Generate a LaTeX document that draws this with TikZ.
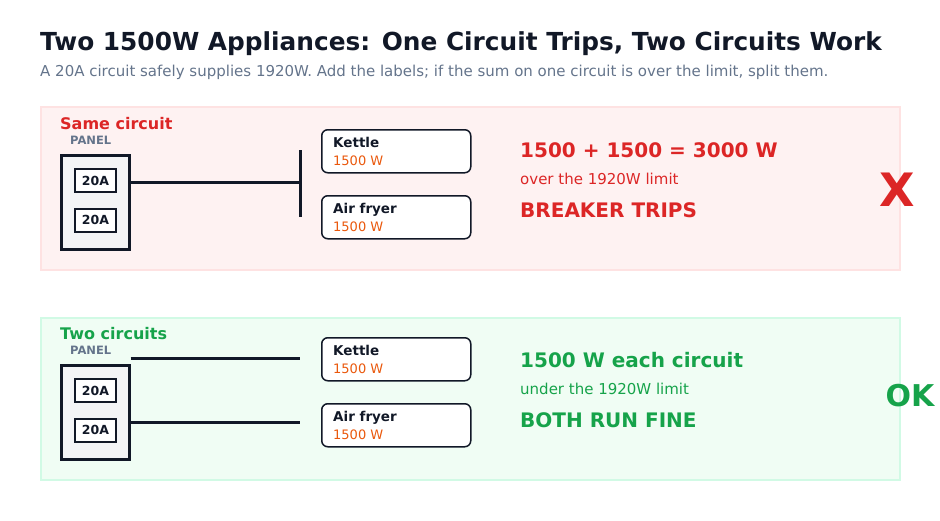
\documentclass[tikz,border=0pt]{standalone}
\usepackage{fontspec}
\setmainfont{DejaVu Sans}
\definecolor{ink}{HTML}{111827}
\definecolor{slate}{HTML}{64748B}
\definecolor{redc}{HTML}{DC2626}
\definecolor{greenc}{HTML}{16A34A}
\definecolor{orangec}{HTML}{EA580C}
\definecolor{bgred}{HTML}{FEF2F2}
\definecolor{bdred}{HTML}{FEE2E2}
\definecolor{bggreen}{HTML}{F0FDF4}
\definecolor{bdgreen}{HTML}{D1FAE5}
\definecolor{panelfill}{HTML}{F3F4F6}
\newcommand{\fs}[1]{\fontsize{#1}{#1}\selectfont}
\begin{document}
\begin{tikzpicture}[x=1pt,y=-1pt,
  txt/.style={inner sep=0pt,anchor=base west},
  panelbox/.style={draw=ink,line width=3pt,fill=panelfill,minimum width=68pt,minimum height=94pt,inner sep=0pt},
  breaker/.style={draw=ink,line width=2pt,fill=white,minimum width=41pt,minimum height=23pt,inner sep=0pt,font=\fs{12.5}\bfseries,text=ink},
  card/.style={draw=ink,line width=1.5pt,fill=white,rounded corners=6pt,minimum width=149pt,minimum height=43pt,inner sep=0pt,anchor=north west},
  wire/.style={draw=ink,line width=3pt},
  appname/.style={txt,font=\fs{13.5}\bfseries,text=ink},
  appw/.style={txt,font=\fs{13},text=orangec}]
\useasboundingbox (0,0) rectangle (940,520);
% title
\node[txt,font=\fs{24.8}\bfseries,text=ink] (title) at (40,50) {Two 1500W Appliances: One Circuit Trips, Two Circuits Work};
\node[txt,font=\fs{15},text=slate] (subtitle) at (40,76) {A 20A circuit safely supplies 1920W. Add the labels; if the sum on one circuit is over the limit, split them.};
% backgrounds
\path[fill=bgred,draw=bdred,line width=2pt] (41,107) rectangle (900,270);
\path[fill=bggreen,draw=bdgreen,line width=2pt] (41,318) rectangle (900,480);
% ---- top: same circuit
\node[txt,font=\fs{16}\bfseries,text=redc] (samelbl) at (60,129) {Same circuit};
\node[txt,font=\fs{11.5}\bfseries,text=slate] (panel1lbl) at (70,144) {PANEL};
\node[panelbox] (panel1) at (95,202) {};
\node[breaker] (b1a) at (95.5,180.5) {20A};
\node[breaker] (b1b) at (95.5,220) {20A};
\coordinate (bus1) at (300,182.5);
\coordinate (bus1top) at (300,150);
\coordinate (bus1bot) at (300,216.5);
\draw[wire] (panel1.east |- bus1) -- (bus1);
\draw[wire] (bus1top) -- (bus1bot);
\node[card] (kettle1) at (321,129) {};
\node[appname] (kettle1n) at (333,147) {Kettle};
\node[appw] (kettle1w) at (333,165) {1500 W};
\node[card] (fryer1) at (321,195) {};
\node[appname] (fryer1n) at (333,213) {Air fryer};
\node[appw] (fryer1w) at (333,231) {1500 W};
\node[txt,font=\fs{20}\bfseries,text=redc] (sum1) at (520,157.3) {1500 + 1500 = 3000 W};
\node[txt,font=\fs{15},text=redc] (over1) at (520,184) {over the 1920W limit};
\node[txt,font=\fs{20}\bfseries,text=redc] (trip1) at (520,217.3) {BREAKER TRIPS};
\node[inner sep=0pt,anchor=base,font=\fs{46}\bfseries,text=redc] (xmark) at (897,206) {X};
% ---- bottom: two circuits
\node[txt,font=\fs{16}\bfseries,text=greenc] (twolbl) at (60,339) {Two circuits};
\node[txt,font=\fs{11.5}\bfseries,text=slate] (panel2lbl) at (70,354) {PANEL};
\node[panelbox] (panel2) at (95,412) {};
\node[breaker] (b2a) at (95.5,390.5) {20A};
\node[breaker] (b2b) at (95.5,430) {20A};
\coordinate (w2a) at (300,358);
\coordinate (w2b) at (300,422);
\draw[wire] (panel2.east |- w2a) -- (w2a);
\draw[wire] (panel2.east |- w2b) -- (w2b);
\node[card] (kettle2) at (321,337) {};
\node[appname] (kettle2n) at (333,355) {Kettle};
\node[appw] (kettle2w) at (333,373) {1500 W};
\node[card] (fryer2) at (321,403) {};
\node[appname] (fryer2n) at (333,421) {Air fryer};
\node[appw] (fryer2w) at (333,439) {1500 W};
\node[txt,font=\fs{20}\bfseries,text=greenc] (sum2) at (520,367.3) {1500 W each circuit};
\node[txt,font=\fs{15},text=greenc] (under2) at (520,394) {under the 1920W limit};
\node[txt,font=\fs{20}\bfseries,text=greenc] (run2) at (520,427.3) {BOTH RUN FINE};
\node[inner sep=0pt,anchor=base,font=\fs{30}\bfseries,text=greenc] (okmark) at (910,406.7) {OK};
\end{tikzpicture}
\end{document}
